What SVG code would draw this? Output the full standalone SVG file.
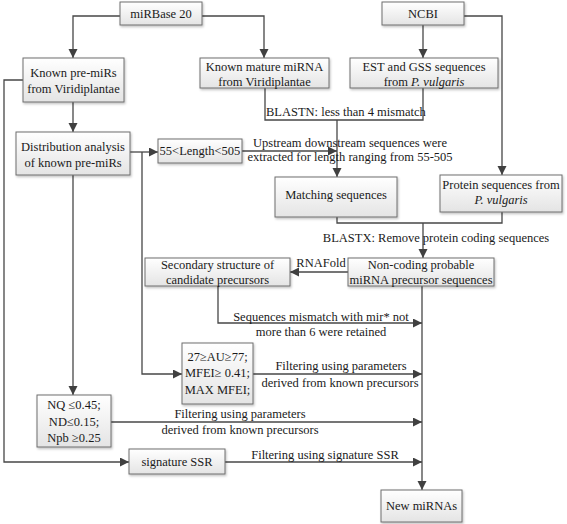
<svg xmlns="http://www.w3.org/2000/svg" width="567" height="524" viewBox="0 0 567 524">
<defs>
<linearGradient id="g" x1="0" y1="0" x2="0" y2="1">
<stop offset="0" stop-color="#ffffff"/>
<stop offset="1" stop-color="#e4e4e4"/>
</linearGradient>
<filter id="sh" x="-10%" y="-10%" width="130%" height="140%">
<feDropShadow dx="1" dy="1.5" stdDeviation="1" flood-color="#000" flood-opacity="0.25"/>
</filter>
<marker id="arr" markerUnits="userSpaceOnUse" markerWidth="10" markerHeight="10" refX="9" refY="4.5" orient="auto">
<path d="M0,0 L9,4.5 L0,9 z" fill="#404040"/>
</marker>
<style>
.box{fill:url(#g);stroke:#6e6e6e;stroke-width:1;filter:url(#sh)}
text{font-family:'Liberation Serif','Times New Roman',Tinos,'DejaVu Serif',serif;font-size:12.5px;fill:#1a1a1a;text-anchor:middle}
.c{fill:none;stroke:#474747;stroke-width:1.3}
.a{marker-end:url(#arr)}
</style>
</defs>
<g id="connectors" font-family="Liberation Serif, Times New Roman, serif">
<polyline class="c a" points="120,16 73,16 73,58"/>
<polyline class="c a" points="202,16 264,16 264,58"/>
<polyline class="c a" points="423,25 423,58"/>
<polyline class="c a" points="464,16 502,16 502,175"/>
<polyline class="c a" points="73,102 73,132"/>
<polyline class="c a" points="23,80 4,80 4,462 129,462"/>
<polyline class="c" points="265,88 265,120 423,120 423,88"/>
<polyline class="c a" points="337,120 337,177"/>
<polyline class="c a" points="130,152 158,152"/>
<polyline class="c a" points="142,152 142,374 182,374"/>
<polyline class="c a" points="242,151 337,151"/>
<polyline class="c a" points="73,175 73,395"/>
<polyline class="c" points="337,217 337,223 502,223 502,212"/>
<polyline class="c a" points="423,223 423,258"/>
<polyline class="c a" points="348,272 290,272"/>
<polyline class="c a" points="218,286 218,323 422,323"/>
<polyline class="c a" points="422,286 422,490"/>
<polyline class="c a" points="253,374 422,374"/>
<polyline class="c a" points="111,422 422,422"/>
<polyline class="c a" points="225,462 422,462"/>
<text x="266" y="116" style="text-anchor:start">BLASTN: less than 4 mismatch</text>
<text x="350" y="147">Upstream downstream sequences were</text>
<text x="350" y="161">extracted for length ranging from 55-505</text>
<text x="436" y="242">BLASTX: Remove protein coding sequences</text>
<text x="321" y="267">RNAFold</text>
<text x="321" y="321">Sequences mismatch with mir* not</text>
<text x="321" y="336">more than 6 were retained</text>
<text x="341" y="370">Filtering using parameters</text>
<text x="340" y="387">derived from known precursors</text>
<text x="240" y="418">Filtering using parameters</text>
<text x="240" y="434">derived from known precursors</text>
<text x="325" y="459">Filtering using signature SSR</text>
</g>
<g id="miRBase">
<rect class="box" x="120" y="2" width="82" height="23"/>
<text x="161" y="18">miRBase 20</text>
</g>
<g id="NCBI">
<rect class="box" x="382" y="2" width="82" height="23"/>
<text x="423" y="18">NCBI</text>
</g>
<g id="knownPre">
<rect class="box" x="23" y="58" width="101" height="44"/>
<text x="73.5" y="77">Known pre-miRs</text>
<text x="73.5" y="93">from Viridiplantae</text>
</g>
<g id="knownMature">
<rect class="box" x="200" y="58" width="129" height="30"/>
<text x="264.5" y="71">Known mature miRNA</text>
<text x="264.5" y="86">from Viridiplantae</text>
</g>
<g id="EST">
<rect class="box" x="350" y="58" width="148" height="30"/>
<text x="424" y="71">EST and GSS sequences</text>
<text x="424" y="86">from <tspan font-style="italic">P. vulgaris</tspan></text>
</g>
<g id="distribution">
<rect class="box" x="16" y="132" width="114" height="43"/>
<text x="73" y="151">Distribution analysis</text>
<text x="73" y="167">of known pre-miRs</text>
</g>
<g id="length">
<rect class="box" x="158" y="139" width="84" height="24"/>
<text x="200" y="155">55&lt;Length&lt;505</text>
</g>
<g id="matching">
<rect class="box" x="275" y="177" width="122" height="40"/>
<text x="336" y="199">Matching sequences</text>
</g>
<g id="protein">
<rect class="box" x="440" y="175" width="122" height="37"/>
<text x="501" y="189">Protein sequences from</text>
<text x="501" y="204" font-style="italic">P. vulgaris</text>
</g>
<g id="noncoding">
<rect class="box" x="348" y="258" width="146" height="28"/>
<text x="421" y="269">Non-coding probable</text>
<text x="421" y="284">miRNA precursor sequences</text>
</g>
<g id="secondary">
<rect class="box" x="145" y="258" width="145" height="28"/>
<text x="217.5" y="269">Secondary structure of</text>
<text x="217.5" y="284">candidate precursors</text>
</g>
<g id="AU">
<rect class="box" x="182" y="343" width="71" height="61"/>
<text x="217.5" y="361">27≥AU≥77;</text>
<text x="217.5" y="377">MFEI≥ 0.41;</text>
<text x="217.5" y="394">MAX MFEI;</text>
</g>
<g id="NQ">
<rect class="box" x="37" y="395" width="74" height="52"/>
<text x="74" y="409">NQ ≤0.45;</text>
<text x="74" y="426">ND≤0.15;</text>
<text x="74" y="442">Npb ≥0.25</text>
</g>
<g id="SSR">
<rect class="box" x="129" y="449" width="96" height="25"/>
<text x="177" y="466">signature SSR</text>
</g>
<g id="newmiRNAs">
<rect class="box" x="381" y="490" width="81" height="32"/>
<text x="421.5" y="510">New miRNAs</text>
</g>
</svg>
